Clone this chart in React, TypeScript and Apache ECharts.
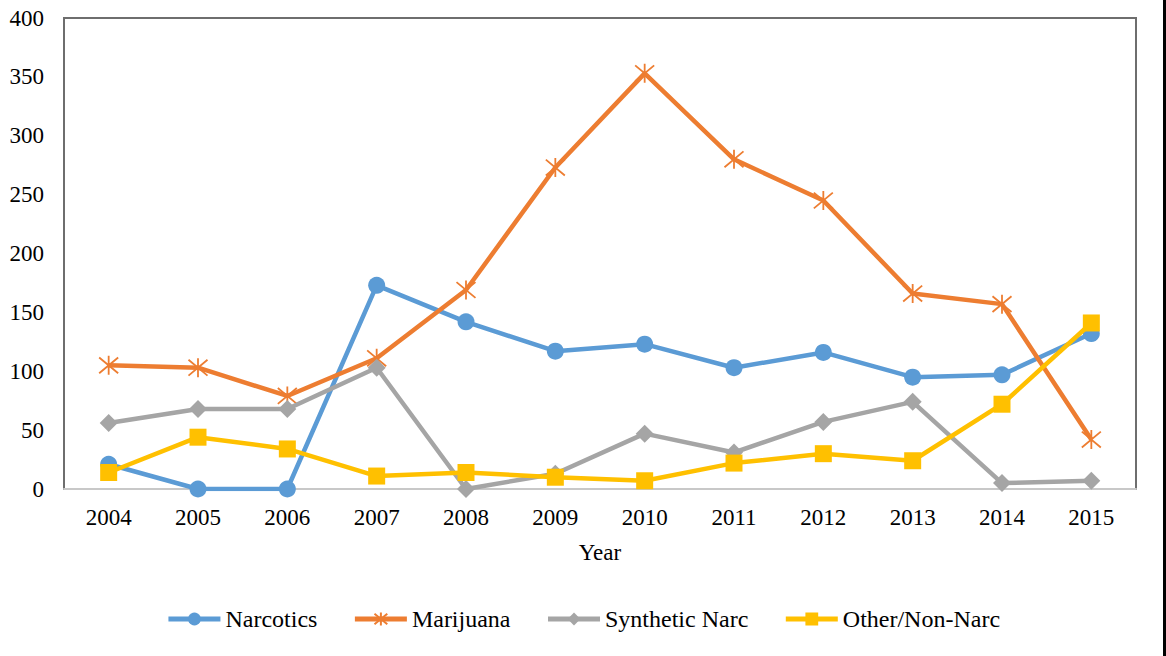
import React, { useEffect, useRef } from "react";
import * as echarts from "echarts";

const years = ["2004", "2005", "2006", "2007", "2008", "2009", "2010", "2011", "2012", "2013", "2014", "2015"];
const narcotics = [21, 0, 0, 173, 142, 117, 123, 103, 116, 95, 97, 132];
const marijuana = [105, 103, 79, 111, 169, 273, 353, 280, 245, 166, 157, 42];
const syntheticNarc = [56, 68, 68, 103, 0, 13, 47, 31, 57, 74, 5, 7];
const otherNonNarc = [14, 44, 34, 11, 14, 10, 7, 22, 30, 24, 72, 141];
const yTicks = { min: 0, max: 400, interval: 50 };

const FONT = "'Liberation Serif', 'Times New Roman', serif";

export default function App() {
  const ref = useRef<HTMLDivElement>(null);
  useEffect(() => {
    const chart = echarts.init(ref.current!, null, { renderer: "svg" });
    const asterisk = "path://M0,0L10,10M10,0L0,10M5,-1L5,11";
    chart.setOption({
      animation: false,
      backgroundColor: "#ffffff",
      textStyle: { fontFamily: FONT },
      grid: {
        left: 64,
        right: 30,
        top: 18,
        bottom: 167,
        show: true,
        borderColor: "#6e6e6e",
        borderWidth: 2,
        backgroundColor: "transparent",
      },
      legend: {
        bottom: 20,
        left: "center",
        itemWidth: 52,
        itemHeight: 16,
        itemGap: 35,
        lineStyle: { width: 5 },
        textStyle: { fontFamily: FONT, fontSize: 24, color: "#000" },
        data: ["Narcotics", "Marijuana", "Synthetic Narc", "Other/Non-Narc"],
      },
      xAxis: {
        type: "category",
        data: years,
        boundaryGap: true,
        name: "Year",
        nameLocation: "middle",
        nameGap: 52,
        nameTextStyle: { fontFamily: FONT, fontSize: 23, color: "#000" },
        axisLine: { show: true, lineStyle: { color: "#c8c8c8", width: 2 } },
        axisTick: { show: false },
        axisLabel: { fontFamily: FONT, fontSize: 23, color: "#000", margin: 17 },
        splitLine: { show: false },
      },
      yAxis: {
        type: "value",
        min: yTicks.min,
        max: yTicks.max,
        interval: yTicks.interval,
        axisLine: { show: false },
        axisTick: { show: false },
        splitLine: { show: false },
        axisLabel: { fontFamily: FONT, fontSize: 23, color: "#000", margin: 20 },
      },
      series: [
        {
          name: "Narcotics",
          type: "line",
          data: narcotics,
          symbol: "circle",
          symbolSize: 17,
          lineStyle: { color: "#5B9BD5", width: 4.5 },
          itemStyle: { color: "#5B9BD5" },
          z: 2,
        },
        {
          name: "Marijuana",
          type: "line",
          data: marijuana,
          symbol: asterisk,
          symbolSize: 19,
          lineStyle: { color: "#ED7D31", width: 4.5 },
          itemStyle: { color: "none", borderColor: "#ED7D31", borderWidth: 1.8 },
          z: 3,
        },
        {
          name: "Synthetic Narc",
          type: "line",
          data: syntheticNarc,
          symbol: "diamond",
          symbolSize: 18,
          lineStyle: { color: "#A5A5A5", width: 4.5 },
          itemStyle: { color: "#A5A5A5" },
          z: 4,
        },
        {
          name: "Other/Non-Narc",
          type: "line",
          data: otherNonNarc,
          symbol: "rect",
          symbolSize: 17,
          lineStyle: { color: "#FFC000", width: 4.5 },
          itemStyle: { color: "#FFC000" },
          z: 5,
        },
      ],
      graphic: [
        {
          type: "rect",
          right: 0,
          top: 0,
          shape: { width: 3, height: 656 },
          style: { fill: "#000" },
        },
      ],
    });
    return () => chart.dispose();
  }, []);
  return (
    <div
      ref={ref}
      style={{ position: "fixed", left: 0, top: 0, width: 1166, height: 656, background: "#fff" }}
    />
  );
}
